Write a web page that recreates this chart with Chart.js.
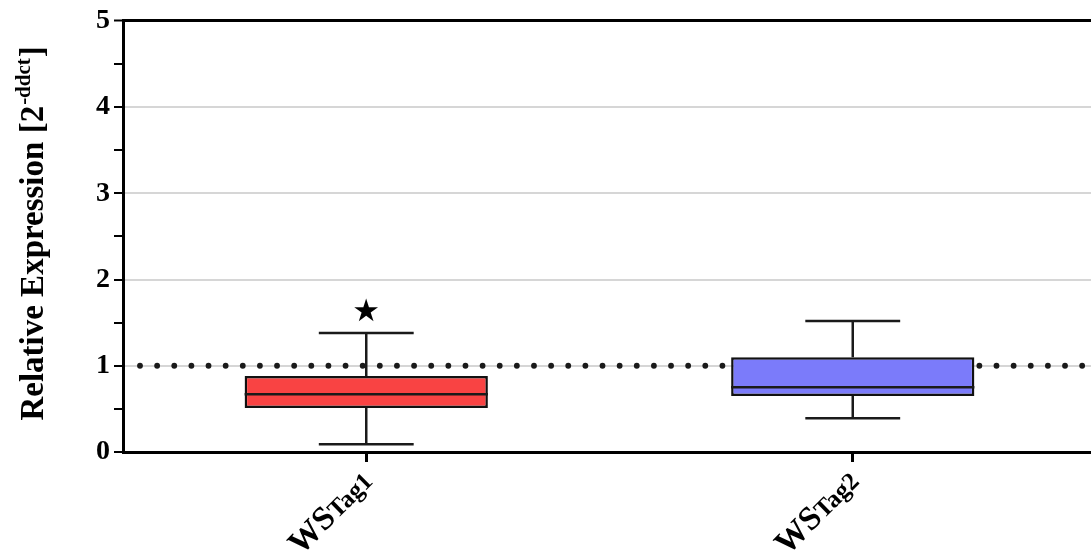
<!DOCTYPE html>
<html>
<head>
<meta charset="utf-8">
<script src="https://cdn.jsdelivr.net/npm/chart.js@4"></script>
<style>
  body { margin: 0; background: #fff; overflow: hidden; }
  #wrap { width: 1096px; height: 551px; position: relative; }
</style>
</head>
<body>
<div id="wrap"><canvas id="boxChart"></canvas></div>
<script>
// box plot values
var categories = ['WSTag1', 'WSTag2'];
var labelHead = ['WS', 'WS'];
var labelTail = ['Tag1', 'Tag2'];
var whiskerMin = [0.09, 0.39];
var q1 = [0.51, 0.65];
var median = [0.67, 0.75];
var q3 = [0.88, 1.10];
var whiskerMax = [1.38, 1.52];
var starAt = [1.61, null];
var boxColors = ['#f94343', '#7b7bfa'];
var refLine = 1;
var yTicks = [0, 1, 2, 3, 4, 5];

var serif = "'Liberation Serif', 'Times New Roman', serif";

var boxPlugin = {
    id: 'boxParts',
    beforeDatasetsDraw: function(chart) {
        // dotted reference line at y = 1
        var ctx = chart.ctx, area = chart.chartArea;
        var y = chart.scales.y.getPixelForValue(refLine);
        ctx.save();
        ctx.fillStyle = '#1a1a1a';
        for (var x = area.left + 17; x < area.right; x += 17.13) {
            ctx.beginPath();
            ctx.arc(x, y, 2.9, 0, Math.PI * 2);
            ctx.fill();
        }
        ctx.restore();
    },
    afterDatasetsDraw: function(chart) {
        var ctx = chart.ctx;
        var ys = chart.scales.y;
        var meta = chart.getDatasetMeta(0);
        ctx.save();
        meta.data.forEach(function(bar, i) {
            var cx = bar.x;
            var half = bar.width / 2;
            var cap = bar.width * 0.195;
            ctx.strokeStyle = '#1a1a1a';
            ctx.lineWidth = 2.5;
            ctx.beginPath();
            // whiskers
            ctx.moveTo(cx, ys.getPixelForValue(q3[i]));
            ctx.lineTo(cx, ys.getPixelForValue(whiskerMax[i]));
            ctx.moveTo(cx, ys.getPixelForValue(q1[i]));
            ctx.lineTo(cx, ys.getPixelForValue(whiskerMin[i]));
            // caps
            ctx.moveTo(cx - cap, ys.getPixelForValue(whiskerMax[i]));
            ctx.lineTo(cx + cap, ys.getPixelForValue(whiskerMax[i]));
            ctx.moveTo(cx - cap, ys.getPixelForValue(whiskerMin[i]));
            ctx.lineTo(cx + cap, ys.getPixelForValue(whiskerMin[i]));
            // median
            ctx.moveTo(cx - half, ys.getPixelForValue(median[i]));
            ctx.lineTo(cx + half, ys.getPixelForValue(median[i]));
            ctx.stroke();

            if (starAt[i] != null) {
                ctx.fillStyle = '#000';
                ctx.font = "31px 'DejaVu Sans'";
                ctx.textAlign = 'center';
                ctx.textBaseline = 'middle';
                ctx.fillText('\u2605', cx, ys.getPixelForValue(starAt[i]));
            }
        });
        ctx.restore();
    },
    afterDraw: function(chart) {
        var ctx = chart.ctx, area = chart.chartArea;
        var xs = chart.scales.x;
        ctx.save();
        ctx.fillStyle = '#000';
        ctx.textBaseline = 'alphabetic';

        // rotated x labels with a bigger "WS"
        categories.forEach(function(c, i) {
            var px = xs.getPixelForValue(i);
            var bigF = 'bold 33px ' + serif, smallF = 'bold 25px ' + serif;
            ctx.font = bigF;
            var w1 = ctx.measureText(labelHead[i]).width;
            ctx.font = smallF;
            var w2 = ctx.measureText(labelTail[i]).width;
            ctx.save();
            ctx.translate(px + 2, area.bottom + 25);
            ctx.rotate(-Math.PI / 4);
            ctx.textAlign = 'left';
            ctx.font = bigF;
            ctx.fillText(labelHead[i], -(w1 + w2), 8);
            ctx.font = smallF;
            ctx.fillText(labelTail[i], -w2, 8);
            ctx.restore();
        });

        // y axis title with superscript
        var mainF = 'bold 33px ' + serif, supF = 'bold 21px ' + serif;
        var p1 = 'Relative Expression [2', p2 = '-ddct', p3 = ']';
        ctx.font = mainF;
        var a = ctx.measureText(p1).width, c = ctx.measureText(p3).width;
        ctx.font = supF;
        var b = ctx.measureText(p2).width;
        var total = a + b + c;
        ctx.translate(43, (area.top + area.bottom) / 2 - 2);
        ctx.rotate(-Math.PI / 2);
        ctx.textAlign = 'left';
        var sx = -total / 2;
        ctx.font = mainF;
        ctx.fillText(p1, sx, 0);
        ctx.font = supF;
        ctx.fillText(p2, sx + a + 1, -13);
        ctx.font = mainF;
        ctx.fillText(p3, sx + a + b + 2, 0);
        ctx.restore();
    }
};

var myChart = new Chart(document.getElementById('boxChart'), {
    type: 'bar',
    data: {
        labels: categories,
        datasets: [{
            label: 'IQR',
            data: q1.map(function(v, i) { return [v, q3[i]]; }),
            backgroundColor: boxColors,
            borderColor: '#111',
            borderWidth: 2.5,
            borderSkipped: false,
            barPercentage: 0.5,
            categoryPercentage: 1.0
        }]
    },
    options: {
        responsive: true,
        maintainAspectRatio: false,
        animation: false,
        layout: { padding: { top: 20, right: 0, left: 0, bottom: 0 } },
        plugins: {
            legend: { display: false },
            title: { display: false },
            tooltip: { enabled: false }
        },
        scales: {
            x: {
                grid: {
                    offset: false,
                    drawOnChartArea: false,
                    tickLength: 10,
                    tickColor: '#000',
                    tickWidth: 3
                },
                border: { color: '#000', width: 3 },
                ticks: { display: false },
                afterFit: function(scale) { scale.height = 99; }
            },
            y: {
                min: 0,
                max: 5,
                afterBuildTicks: function(scale) {
                    var t = [];
                    for (var v = 0; v <= 5; v += 0.5) t.push({ value: v });
                    scale.ticks = t;
                },
                ticks: {
                    color: '#000',
                    padding: 4,
                    font: { family: serif, size: 28, weight: 'bold' },
                    callback: function(v) { return yTicks.indexOf(v) >= 0 ? String(v) : ''; }
                },
                grid: {
                    color: function(c) {
                        var v = c.tick ? c.tick.value : 0;
                        if (v === 5) return '#000';
                        if (v > 0 && v < 5 && v % 1 === 0) return '#d6d6d6';
                        return 'rgba(0,0,0,0)';
                    },
                    lineWidth: function(c) {
                        var v = c.tick ? c.tick.value : 0;
                        return v === 5 ? 3 : 2;
                    },
                    tickColor: '#000',
                    tickWidth: 2,
                    tickLength: 9
                },
                border: { color: '#000', width: 3 },
                afterFit: function(scale) { scale.width = 123; }
            }
        }
    },
    plugins: [boxPlugin]
});
</script>
</body>
</html>
